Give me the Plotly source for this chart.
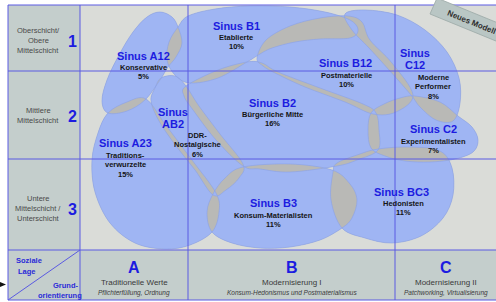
import plotly.graph_objects as go

# ---------------- data ----------------
codes = ["A12", "B1", "B12", "C12", "AB2", "B2", "C2", "A23", "B3", "BC3"]
titles = [["Sinus A12"], ["Sinus B1"], ["Sinus B12"], ["Sinus", "C12"], ["Sinus", "AB2"],
          ["Sinus B2"], ["Sinus C2"], ["Sinus A23"], ["Sinus B3"], ["Sinus BC3"]]
names = [["Konservative"], ["Etablierte"], ["Postmaterielle"], ["Moderne", "Performer"],
         ["DDR-", "Nostalgische"], ["Bürgerliche Mitte"], ["Experimentalisten"],
         ["Traditions-", "verwurzelte"], ["Konsum-Materialisten"], ["Hedonisten"]]
shares = [5, 10, 10, 8, 6, 16, 7, 15, 11, 11]

class_labels = [["Oberschicht/", "Obere", "Mittelschicht"], ["Mittlere", "Mittelschicht"],
                ["Untere", "Mittelschicht /", "Unterschicht"]]
class_numbers = ["1", "2", "3"]
orient_letters = ["A", "B", "C"]
orient_titles = ["Traditionelle Werte", "Modernisierung I", "Modernisierung II"]
orient_subtitles = ["Pflichterfüllung, Ordnung", "Konsum-Hedonismus und Postmaterialismus",
                    "Patchworking, Virtualisierung"]
corner_top = ["Soziale", "Lage"]
corner_bottom = ["Grund-", "orientierung"]
badge = "Neues Modell"
copyright_text = "© Sinus Sociovision 2006"

# ---------------- geometry (layout, pixel-like units) ----------------
W, H = 496, 302
col_edges = [8, 80, 188, 395, 496]
row_edges = [5, 71, 159, 250, 300]

outlines = {
    "A12": [(160, 12), (172, 17), (178, 27), (182, 43), (176, 57), (168, 67), (160, 80), (145, 100),
            (127, 111), (108, 113), (102, 101), (107, 80), (119, 55), (133, 32), (147, 17)],
    "B1": [(178, 27), (188, 16), (215, 9), (250, 6), (290, 7), (325, 12), (350, 20), (358, 30),
           (350, 38), (320, 39), (295, 42), (272, 48), (260, 54), (247, 62), (218, 78), (190, 83),
           (175, 75), (167, 60), (169, 42)],
    "B12": [(257, 58), (266, 40), (290, 26), (320, 18), (348, 16), (362, 22), (370, 40), (392, 63),
            (413, 95), (396, 112), (373, 114), (345, 102), (305, 87), (277, 74), (263, 66)],
    "C12": [(345, 14), (365, 10), (397, 15), (425, 30), (447, 52), (459, 78), (460, 103), (453, 121),
            (436, 120), (420, 107), (411, 95), (389, 70), (369, 48), (352, 30)],
    "AB2": [(161, 78), (175, 76), (186, 86), (199, 106), (220, 134), (243, 164), (239, 178),
            (226, 190), (213, 195), (195, 170), (176, 146), (159, 121), (151, 101), (155, 88)],
    "B2": [(186, 86), (218, 70), (247, 62), (262, 63), (278, 72), (320, 88), (363, 104), (376, 113),
           (379, 130), (378, 150), (357, 160), (337, 166), (290, 172), (260, 169), (243, 166),
           (216, 140), (193, 110), (184, 96)],
    "C2": [(371, 113), (384, 104), (400, 98), (415, 96), (440, 102), (458, 116), (472, 127),
           (478, 140), (473, 152), (455, 159), (430, 162), (405, 161), (385, 156), (371, 148),
           (368, 130)],
    "A23": [(108, 113), (127, 102), (146, 99), (165, 124), (192, 160), (216, 193), (219, 212),
            (212, 232), (190, 245), (165, 249), (135, 243), (110, 223), (95, 192), (92, 160), (98, 133)],
    "B3": [(213, 194), (225, 178), (243, 167), (290, 164), (332, 170), (350, 184), (357, 200),
           (352, 218), (342, 228), (320, 240), (290, 247), (260, 248), (232, 243), (212, 232), (207, 212)],
    "BC3": [(337, 163), (357, 155), (378, 149), (410, 147), (440, 151), (452, 168), (453, 195),
            (443, 218), (421, 236), (392, 243), (365, 238), (342, 228), (331, 200), (333, 172)],
}
title_pos = {"A12": (143, 56), "B1": (236, 26), "B12": (345, 63), "C12": (415, 53), "AB2": (173, 112),
             "B2": (272, 103), "C2": (433, 129), "A23": (125, 143), "B3": (273, 203), "BC3": (401, 192)}
body_pos = {"A12": (143, 67), "B1": (236, 37), "B12": (346, 75), "C12": (433, 77), "AB2": (197, 135),
            "B2": (272, 114), "C2": (433, 141), "A23": (125, 155), "B3": (273, 215), "BC3": (403, 203)}

FONT = "Liberation Sans, Arial, sans-serif"
BLUE_TXT = "#1c1ce0"
GRID = "#5a5ae2"
BLOB = "#9fb5f3"
LENS = "#b9b9b6"
BG = "#dadcd8"
PANEL = "#c4cecc"


def smooth_path(pts):
    n = len(pts)
    d = "M %.2f,%.2f " % pts[0]
    for i in range(n):
        p0 = pts[(i - 1) % n]
        p1 = pts[i]
        p2 = pts[(i + 1) % n]
        p3 = pts[(i + 2) % n]
        c1 = (p1[0] + (p2[0] - p0[0]) / 6, p1[1] + (p2[1] - p0[1]) / 6)
        c2 = (p2[0] - (p3[0] - p1[0]) / 6, p2[1] - (p3[1] - p1[1]) / 6)
        d += "C %.2f,%.2f %.2f,%.2f %.2f,%.2f " % (c1 + c2 + p2)
    return d + "Z"


shapes = []
# backgrounds
shapes.append(dict(type="rect", x0=col_edges[0], x1=W + 2, y0=row_edges[0], y1=row_edges[-1],
                   fillcolor=BG, line_width=0))
shapes.append(dict(type="rect", x0=col_edges[0], x1=col_edges[1], y0=row_edges[0], y1=row_edges[-1],
                   fillcolor=PANEL, line_width=0))
shapes.append(dict(type="rect", x0=col_edges[1], x1=W + 2, y0=row_edges[3], y1=row_edges[-1],
                   fillcolor=PANEL, line_width=0))
# gray underlay for overlaps
for c in codes:
    shapes.append(dict(type="path", path=smooth_path(outlines[c]), fillcolor=LENS, line_width=0))
# blue blobs, even-odd so that double overlaps show the gray lens
combined = " ".join(smooth_path(outlines[c]) for c in codes)
shapes.append(dict(type="path", path=combined, fillcolor=BLOB, fillrule="evenodd",
                   line=dict(color="#8aa1e8", width=0.6)))
# grid
for x in col_edges[:-1]:
    shapes.append(dict(type="line", x0=x, x1=x, y0=row_edges[0], y1=row_edges[-1],
                       line=dict(color=GRID, width=1)))
for y in row_edges:
    shapes.append(dict(type="line", x0=col_edges[0], x1=W + 2, y0=y, y1=y,
                       line=dict(color=GRID, width=1)))
shapes.append(dict(type="line", x0=col_edges[0], x1=col_edges[1], y0=row_edges[-1], y1=row_edges[3],
                   line=dict(color=GRID, width=1)))
# badge tab
shapes.append(dict(type="path", path="M 437,-2 L 520,32 L 513,48 L 430,14 Z",
                   fillcolor="#b9c6c4", line=dict(color="#9aa8a6", width=0.8)))
# small black pointer mark at the left edge
shapes.append(dict(type="path", path="M 0,282 L 6,284.5 L 0,287 Z", fillcolor="#111111", line_width=0))

ann = []


def txt(x, y, s, size, color, bold=False, italic=False, xanchor="center", angle=0):
    if bold:
        s = "<b>%s</b>" % s
    if italic:
        s = "<i>%s</i>" % s
    ann.append(dict(x=x, y=y, xref="x", yref="y", text=s, showarrow=False, xanchor=xanchor,
                    yanchor="middle", textangle=angle, font=dict(family=FONT, size=size, color=color)))


for i, c in enumerate(codes):
    tx, ty = title_pos[c]
    for k, line in enumerate(titles[i]):
        txt(tx, ty + k * 12, line, 11, BLUE_TXT, bold=True)
    bx, by = body_pos[c]
    lines = names[i] + ["%d%%" % shares[i]]
    for k, line in enumerate(lines):
        txt(bx, by + k * 9.6, line, 7.5, "#151515", bold=True)

# left column
class_y = [40, 115, 208]
for r in range(3):
    lines = class_labels[r]
    n = len(lines)
    for k, line in enumerate(lines):
        txt(38, class_y[r] + (k - (n - 1) / 2) * 10, line, 7.5, "#4a4a4a")
    txt(72, class_y[r] + 1, class_numbers[r], 16, BLUE_TXT, bold=True)

# bottom row
col_centers = [134, 292, 446]
for j in range(3):
    txt(col_centers[j], 267, orient_letters[j], 16, BLUE_TXT, bold=True)
    txt(col_centers[j], 282, orient_titles[j], 8, "#3a3a3a")
    txt(col_centers[j], 292.5, orient_subtitles[j], 6.5, "#3a3a3a", italic=True)

# corner cell
txt(29, 260, corner_top[0], 7.5, "#2a2ad8", bold=True)
txt(27, 271, corner_top[1], 7.5, "#2a2ad8", bold=True)
txt(65, 285, corner_bottom[0], 7.5, "#2a2ad8", bold=True)
txt(60, 295.5, corner_bottom[1], 7.5, "#2a2ad8", bold=True)

# badge and copyright
txt(472, 22, badge, 8, "#2e2e2e", bold=True, angle=22)
txt(497, 244, copyright_text, 5, "#555555", xanchor="right")

fig = go.Figure(go.Scatter(x=[], y=[], mode="markers", showlegend=False, hoverinfo="skip"))
fig.update_layout(
    width=W, height=H, margin=dict(l=0, r=0, t=0, b=0),
    paper_bgcolor="white", plot_bgcolor="white",
    xaxis=dict(range=[0, W], visible=False, fixedrange=True),
    yaxis=dict(range=[H, 0], visible=False, fixedrange=True),
    shapes=shapes, annotations=ann, showlegend=False,
)
fig.write_html("out.html", config={"displayModeBar": False},
               post_script="document.body.style.margin='0px';document.body.style.overflow='hidden';")
